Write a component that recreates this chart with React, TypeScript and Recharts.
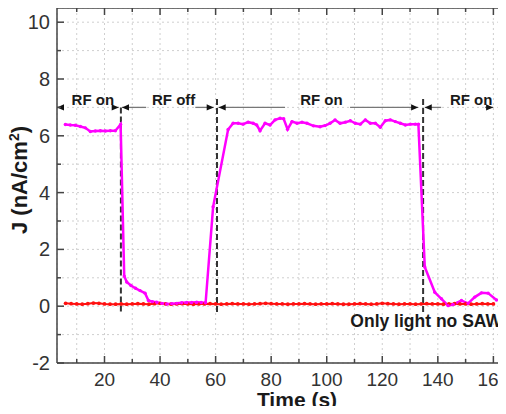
import React from 'react';
import { LineChart, Line, XAxis, YAxis, CartesianGrid, ReferenceLine, ReferenceDot } from 'recharts';

// ---- data ----
const xTicks = [10, 20, 30, 40, 50, 60, 70, 80, 90, 100, 110, 120, 130, 140, 150, 160];
const yTicks = [-2, -1, 0, 1, 2, 3, 4, 5, 6, 7, 8, 9, 10];

const sawTimes = [
  5.9, 7.7, 9.5, 11.3, 13.1, 14.9, 16.7, 18.5, 20.3, 22.1, 23.9, 25.8,
  27.1, 28.0, 29.5, 31.2, 32.8, 34.6, 35.8, 37.3, 38.8, 40.6, 42.4, 44.2, 46.0, 47.8, 49.6, 51.4, 53.2, 54.8, 56.4,
  59.1, 64.5, 66.3, 68.1, 69.9, 71.7, 73.5, 74.8, 76.0, 77.8, 79.6, 81.4, 83.2, 84.5, 85.9, 87.5, 89.3, 91.1, 92.9,
  95.2, 97.6, 99.4, 101.2, 103.0, 104.8, 106.7, 108.5, 110.3, 112.1, 113.9, 115.7, 117.5, 119.3, 121.1, 122.9,
  124.7, 126.5, 128.3, 130.1, 131.9, 133.0,
  135.3, 138.9, 141.3, 143.7, 145.5, 148.5, 150.9, 153.3, 155.7, 158.1, 161.1,
];
const sawValues = [
  6.40, 6.38, 6.37, 6.33, 6.28, 6.15, 6.17, 6.18, 6.17, 6.18, 6.18, 6.40,
  1.06, 0.85, 0.73, 0.63, 0.55, 0.46, 0.20, 0.16, 0.14, 0.10, 0.08, 0.09, 0.10, 0.12, 0.13, 0.13, 0.14, 0.13, 0.12,
  3.50, 6.22, 6.44, 6.44, 6.41, 6.48, 6.44, 6.38, 6.18, 6.44, 6.38, 6.56, 6.62, 6.60, 6.23, 6.50, 6.44, 6.48, 6.44,
  6.35, 6.32, 6.36, 6.44, 6.56, 6.44, 6.48, 6.53, 6.44, 6.41, 6.56, 6.44, 6.44, 6.30, 6.53, 6.56,
  6.50, 6.44, 6.38, 6.41, 6.41, 6.41,
  1.38, 0.49, 0.26, 0.02, 0.06, 0.20, 0.10, 0.32, 0.47, 0.46, 0.22,
];

const lightTimes = [
  6, 8, 10, 12, 14, 16, 18, 20, 22, 24,
  26, 28, 30, 32, 34, 36, 38, 40, 42, 44,
  46, 48, 50, 52, 54, 56, 58, 60, 62, 64,
  66, 68, 70, 72, 74, 76, 78, 80, 82, 84,
  86, 88, 90, 92, 94, 96, 98, 100, 102, 104,
  106, 108, 110, 112, 114, 116, 118, 120, 122, 124,
  126, 128, 130, 132, 134, 136, 138, 140, 142, 144,
  146, 148, 150, 152, 154, 156, 158, 160,
];
const lightValues = [
  0.10, 0.09, 0.08, 0.07, 0.09, 0.11, 0.10, 0.08, 0.07, 0.07,
  0.08, 0.07, 0.08, 0.09, 0.08, 0.07, 0.09, 0.10, 0.08, 0.07,
  0.08, 0.09, 0.08, 0.07, 0.08, 0.08, 0.09, 0.08, 0.07, 0.08,
  0.09, 0.08, 0.08, 0.07, 0.08, 0.09, 0.10, 0.09, 0.08, 0.08,
  0.07, 0.08, 0.08, 0.09, 0.08, 0.07, 0.08, 0.08, 0.09, 0.08,
  0.07, 0.07, 0.08, 0.09, 0.08, 0.07, 0.08, 0.10, 0.09, 0.08,
  0.07, 0.08, 0.08, 0.07, 0.08, 0.09, 0.08, 0.08, 0.07, 0.08,
  0.09, 0.08, 0.08, 0.07, 0.08, 0.09, 0.08, 0.08,
];

// switching instants (dashed markers)
const switchTimes = [25.9, 60.5, 134.7, 162.3];
const switchTops = [7.0, 7.3, 7.3, 7.3];
// bracket annotations at J = 7
const bracketLevel = 7;
const bracketSegments: { from: number; to: number; tip: 'start' | 'end' }[] = [
  { from: 2.9, to: 5.4, tip: 'start' },
  { from: 23.0, to: 25.1, tip: 'end' },
  { from: 26.3, to: 35.0, tip: 'start' },
  { from: 52.7, to: 59.3, tip: 'end' },
  { from: 61.1, to: 85.0, tip: 'start' },
  { from: 108.4, to: 132.9, tip: 'end' },
  { from: 135.3, to: 141.2, tip: 'start' },
  { from: 157.0, to: 159.9, tip: 'end' },
];
const phaseLabels = ['RF on', 'RF off', 'RF on', 'RF on'];
const phaseLabelTimes = [15.8, 44.9, 98.1, 152.0];

const sawData = sawTimes.map((t, i) => ({ t, j: sawValues[i] }));
const lightData = lightTimes.map((t, i) => ({ t, j: lightValues[i] }));

// ---- layout ----
const W = 512;
const H = 414;
const TOP = 8;
const LEFT = 57;
const RIGHT = 507;
const BOTTOM = 363;
const FONT = '"Liberation Sans", Arial, sans-serif';
const AXIS = '#444';

const XTick = (p: any) => {
  const { x, y, payload } = p;
  const v = payload.value;
  const major = v % 20 === 0;
  const len = major ? 7 : 4;
  return (
    <g>
      <line x1={x} y1={y} x2={x} y2={y - len} stroke={AXIS} strokeWidth={1.5} />
      <line x1={x} y1={TOP} x2={x} y2={TOP + len} stroke={AXIS} strokeWidth={1.5} />
      {major && (
        <text x={x} y={y + 23} textAnchor="middle" fontSize={19} fontFamily={FONT} fill="#333">
          {v}
        </text>
      )}
    </g>
  );
};

const YTick = (p: any) => {
  const { x, y, payload } = p;
  const v = payload.value;
  const major = v % 2 === 0;
  const len = major ? 7 : 4;
  return (
    <g>
      <line x1={x} y1={y} x2={x + len} y2={y} stroke={AXIS} strokeWidth={1.5} />
      <line x1={RIGHT} y1={y} x2={RIGHT - len} y2={y} stroke={AXIS} strokeWidth={1.5} />
      {major && (
        <text x={x - 7} y={y + 7} textAnchor="end" fontSize={20} fontFamily={FONT} fill="#333">
          {v}
        </text>
      )}
    </g>
  );
};

const YLabel = () => (
  <text
    x={27}
    y={180}
    transform="rotate(-90, 27, 180)"
    textAnchor="middle"
    fontSize={22}
    fontWeight="bold"
    fontFamily={FONT}
    fill="#1a1a1a"
  >
    J (nA/cm<tspan dy={-8} fontSize={14}>2</tspan>
    <tspan dy={8}>)</tspan>
  </text>
);

const XLabel = () => (
  <text x={297} y={407} textAnchor="middle" fontSize={21} fontWeight="bold" fontFamily={FONT} fill="#1a1a1a">
    Time (s)
  </text>
);

const arrowShape = (tip: 'start' | 'end') => (p: any) => {
  const { x1, y1, x2, y2 } = p;
  const tx = tip === 'end' ? x2 : x1;
  const ty = tip === 'end' ? y2 : y1;
  const bx = tip === 'end' ? tx - 7 : tx + 7;
  return (
    <g>
      <line x1={x1} y1={y1} x2={x2} y2={y2} stroke="#777" strokeWidth={1.3} />
      <polygon points={`${tx},${ty} ${bx},${ty - 3.2} ${bx},${ty + 3.2}`} fill="#111" />
    </g>
  );
};

const textShape = (label: string, anchor: string, size: number) => (p: any) => (
  <text
    x={p.cx}
    y={p.cy}
    textAnchor={anchor}
    fontSize={size}
    fontWeight="bold"
    fontFamily={FONT}
    fill="#1a1a1a"
  >
    {label}
  </text>
);

export default function App() {
  return (
    <div style={{ margin: -8, width: 506, height: 414, overflow: 'hidden', background: '#fff' }}>
      <LineChart width={W} height={H} margin={{ top: TOP, right: W - RIGHT, bottom: 0, left: 0 }}>
        <CartesianGrid stroke="#cfcfcf" strokeDasharray="2 3" strokeWidth={1} />
        <XAxis
          type="number"
          dataKey="t"
          domain={[2.9, 164.9]}
          ticks={xTicks}
          interval={0}
          allowDataOverflow
          height={H - BOTTOM}
          tickSize={0}
          tickMargin={0}
          tickLine={false}
          tick={(p: any) => <XTick {...p} />}
          axisLine={{ stroke: AXIS, strokeWidth: 1.5 }}
          label={<XLabel />}
        />
        <YAxis
          type="number"
          domain={[-2, 10.5]}
          ticks={yTicks}
          interval={0}
          allowDataOverflow
          width={LEFT}
          tickSize={0}
          tickMargin={0}
          tickLine={false}
          tick={(p: any) => <YTick {...p} />}
          axisLine={{ stroke: AXIS, strokeWidth: 1.5 }}
          label={<YLabel />}
        />
        <ReferenceLine y={10.5} stroke={AXIS} strokeWidth={1.5} />
        {switchTimes.map((t, i) => (
          <ReferenceLine
            key={'sw' + i}
            segment={[
              { x: t, y: switchTops[i] },
              { x: t, y: -0.2 },
            ]}
            stroke="#333"
            strokeWidth={2}
            strokeDasharray="6 3"
          />
        ))}
        {bracketSegments.map((s, i) => (
          <ReferenceLine
            key={'br' + i}
            segment={[
              { x: s.from, y: bracketLevel },
              { x: s.to, y: bracketLevel },
            ]}
            shape={arrowShape(s.tip)}
          />
        ))}
        <Line
          data={lightData}
          dataKey="j"
          type="linear"
          stroke="#ff1010"
          strokeWidth={2}
          dot={{ r: 1.9, fill: '#ff1010', stroke: '#ff1010', strokeWidth: 0 }}
          isAnimationActive={false}
        />
        <Line
          data={sawData}
          dataKey="j"
          type="linear"
          stroke="#ff00ff"
          strokeWidth={2.5}
          dot={{ r: 1.7, fill: '#ff00ff', stroke: '#ff00ff', strokeWidth: 0 }}
          isAnimationActive={false}
        />
        {phaseLabels.map((l, i) => (
          <ReferenceDot
            key={'pl' + i}
            x={phaseLabelTimes[i]}
            y={7.1}
            shape={textShape(l, 'middle', 15)}
          />
        ))}
        <ReferenceDot x={163.1} y={-0.74} shape={textShape('Only light no SAW', 'end', 17.5)} />
      </LineChart>
    </div>
  );
}
